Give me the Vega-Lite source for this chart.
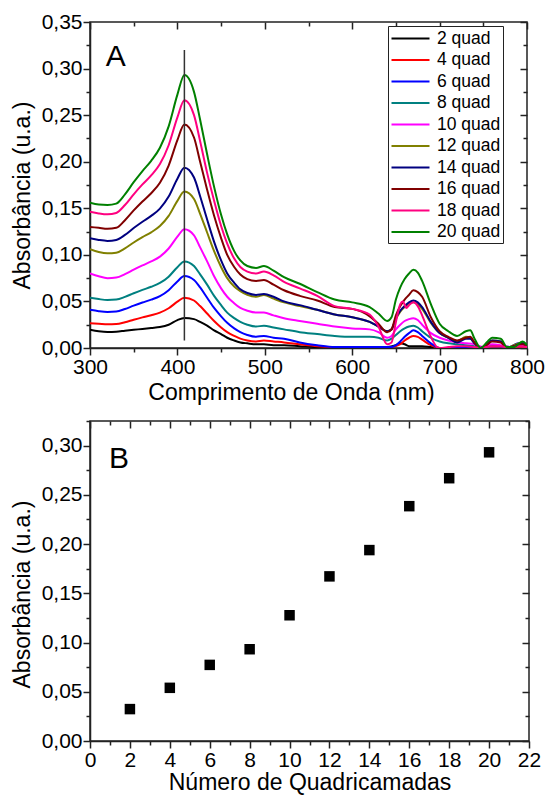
{
"$schema": "https://vega.github.io/schema/vega-lite/v6.json",
"background": "white",
"padding": {"left": 10, "top": 10, "right": 5, "bottom": 3},
"spacing": 4,
"config": {
 "font": "Liberation Sans",
 "view": {"stroke": "#222", "strokeWidth": 1.5},
 "axis": {"domainColor": "#222", "domainWidth": 1.5, "tickColor": "#222", "tickWidth": 1.5, "labelFont": "Liberation Sans", "labelFontSize": 21, "labelColor": "black", "titleFont": "Liberation Sans", "titleFontSize": 23, "titleFontWeight": "normal", "titleColor": "black", "grid": false, "labelPadding": 1, "labelFlush": false, "labelBound": false, "labelOverlap": false, "titlePadding": 4}
},
"vconcat": [
 {
  "width": 437, "height": 326,
  "resolve": {"axis": {"x": "independent", "y": "independent"}},
  "layer": [
   {
    "data": {"values": [
{"s":"2 quad","nm":300,"a":0.0197},{"s":"2 quad","nm":310,"a":0.018},{"s":"2 quad","nm":320,"a":0.0172},{"s":"2 quad","nm":330,"a":0.0175},{"s":"2 quad","nm":340,"a":0.0185},{"s":"2 quad","nm":350,"a":0.0195},{"s":"2 quad","nm":360,"a":0.0205},{"s":"2 quad","nm":370,"a":0.0215},{"s":"2 quad","nm":380,"a":0.0225},{"s":"2 quad","nm":390,"a":0.025},{"s":"2 quad","nm":400,"a":0.030},{"s":"2 quad","nm":408,"a":0.0322},{"s":"2 quad","nm":419,"a":0.031},{"s":"2 quad","nm":426,"a":0.028},{"s":"2 quad","nm":434,"a":0.024},{"s":"2 quad","nm":442,"a":0.019},{"s":"2 quad","nm":450,"a":0.015},{"s":"2 quad","nm":457,"a":0.011},{"s":"2 quad","nm":465,"a":0.008},{"s":"2 quad","nm":472,"a":0.006},{"s":"2 quad","nm":480,"a":0.005},{"s":"2 quad","nm":490,"a":0.004},{"s":"2 quad","nm":499,"a":0.004},{"s":"2 quad","nm":510,"a":0.003},{"s":"2 quad","nm":522,"a":0.003},{"s":"2 quad","nm":540,"a":0.002},{"s":"2 quad","nm":560,"a":0.001},{"s":"2 quad","nm":600,"a":0.001},{"s":"2 quad","nm":640,"a":0.001},{"s":"2 quad","nm":650,"a":0.003},{"s":"2 quad","nm":655,"a":0.005},{"s":"2 quad","nm":660,"a":0.004},{"s":"2 quad","nm":665,"a":0.002},{"s":"2 quad","nm":680,"a":0.002},{"s":"2 quad","nm":690,"a":0.001},{"s":"2 quad","nm":700,"a":0.000},{"s":"2 quad","nm":750,"a":0.000},{"s":"2 quad","nm":800,"a":0.000},
{"s":"4 quad","nm":300,"a":0.0265},{"s":"4 quad","nm":310,"a":0.026},{"s":"4 quad","nm":320,"a":0.0254},{"s":"4 quad","nm":330,"a":0.0257},{"s":"4 quad","nm":340,"a":0.0277},{"s":"4 quad","nm":350,"a":0.0304},{"s":"4 quad","nm":360,"a":0.0329},{"s":"4 quad","nm":370,"a":0.0352},{"s":"4 quad","nm":380,"a":0.038},{"s":"4 quad","nm":390,"a":0.0427},{"s":"4 quad","nm":400,"a":0.0497},{"s":"4 quad","nm":408,"a":0.054},{"s":"4 quad","nm":419,"a":0.051},{"s":"4 quad","nm":426,"a":0.045},{"s":"4 quad","nm":434,"a":0.037},{"s":"4 quad","nm":442,"a":0.029},{"s":"4 quad","nm":450,"a":0.022},{"s":"4 quad","nm":457,"a":0.017},{"s":"4 quad","nm":465,"a":0.013},{"s":"4 quad","nm":472,"a":0.010},{"s":"4 quad","nm":480,"a":0.008},{"s":"4 quad","nm":490,"a":0.007},{"s":"4 quad","nm":499,"a":0.008},{"s":"4 quad","nm":510,"a":0.007},{"s":"4 quad","nm":522,"a":0.006},{"s":"4 quad","nm":540,"a":0.004},{"s":"4 quad","nm":560,"a":0.002},{"s":"4 quad","nm":580,"a":0.001},{"s":"4 quad","nm":600,"a":0.001},{"s":"4 quad","nm":620,"a":0.000},{"s":"4 quad","nm":640,"a":0.001},{"s":"4 quad","nm":645,"a":0.001},{"s":"4 quad","nm":650,"a":0.002},{"s":"4 quad","nm":655,"a":0.004},{"s":"4 quad","nm":660,"a":0.008},{"s":"4 quad","nm":665,"a":0.011},{"s":"4 quad","nm":670,"a":0.013},{"s":"4 quad","nm":675,"a":0.012},{"s":"4 quad","nm":680,"a":0.009},{"s":"4 quad","nm":690,"a":0.003},{"s":"4 quad","nm":700,"a":0.000},{"s":"4 quad","nm":750,"a":0.000},{"s":"4 quad","nm":800,"a":0.001},
{"s":"6 quad","nm":300,"a":0.041},{"s":"6 quad","nm":310,"a":0.0395},{"s":"6 quad","nm":320,"a":0.0387},{"s":"6 quad","nm":330,"a":0.0391},{"s":"6 quad","nm":340,"a":0.0419},{"s":"6 quad","nm":350,"a":0.0455},{"s":"6 quad","nm":360,"a":0.0488},{"s":"6 quad","nm":370,"a":0.0519},{"s":"6 quad","nm":380,"a":0.0557},{"s":"6 quad","nm":390,"a":0.0621},{"s":"6 quad","nm":400,"a":0.0715},{"s":"6 quad","nm":408,"a":0.0773},{"s":"6 quad","nm":419,"a":0.073},{"s":"6 quad","nm":426,"a":0.065},{"s":"6 quad","nm":434,"a":0.054},{"s":"6 quad","nm":442,"a":0.043},{"s":"6 quad","nm":450,"a":0.034},{"s":"6 quad","nm":457,"a":0.027},{"s":"6 quad","nm":465,"a":0.021},{"s":"6 quad","nm":472,"a":0.017},{"s":"6 quad","nm":480,"a":0.014},{"s":"6 quad","nm":490,"a":0.012},{"s":"6 quad","nm":499,"a":0.013},{"s":"6 quad","nm":510,"a":0.011},{"s":"6 quad","nm":522,"a":0.010},{"s":"6 quad","nm":540,"a":0.006},{"s":"6 quad","nm":560,"a":0.003},{"s":"6 quad","nm":580,"a":0.001},{"s":"6 quad","nm":600,"a":0.001},{"s":"6 quad","nm":620,"a":0.001},{"s":"6 quad","nm":640,"a":0.001},{"s":"6 quad","nm":645,"a":0.001},{"s":"6 quad","nm":650,"a":0.003},{"s":"6 quad","nm":655,"a":0.007},{"s":"6 quad","nm":660,"a":0.012},{"s":"6 quad","nm":665,"a":0.016},{"s":"6 quad","nm":670,"a":0.019},{"s":"6 quad","nm":675,"a":0.017},{"s":"6 quad","nm":680,"a":0.013},{"s":"6 quad","nm":690,"a":0.005},{"s":"6 quad","nm":700,"a":0.000},{"s":"6 quad","nm":740,"a":0.000},{"s":"6 quad","nm":760,"a":0.002},{"s":"6 quad","nm":780,"a":0.001},{"s":"6 quad","nm":790,"a":0.005},{"s":"6 quad","nm":800,"a":0.002},
{"s":"8 quad","nm":300,"a":0.054},{"s":"8 quad","nm":310,"a":0.0525},{"s":"8 quad","nm":320,"a":0.0515},{"s":"8 quad","nm":330,"a":0.052},{"s":"8 quad","nm":340,"a":0.0549},{"s":"8 quad","nm":350,"a":0.0588},{"s":"8 quad","nm":360,"a":0.0624},{"s":"8 quad","nm":370,"a":0.0657},{"s":"8 quad","nm":380,"a":0.0698},{"s":"8 quad","nm":390,"a":0.0766},{"s":"8 quad","nm":400,"a":0.0868},{"s":"8 quad","nm":408,"a":0.093},{"s":"8 quad","nm":419,"a":0.088},{"s":"8 quad","nm":426,"a":0.079},{"s":"8 quad","nm":434,"a":0.068},{"s":"8 quad","nm":442,"a":0.056},{"s":"8 quad","nm":450,"a":0.046},{"s":"8 quad","nm":457,"a":0.038},{"s":"8 quad","nm":465,"a":0.032},{"s":"8 quad","nm":472,"a":0.028},{"s":"8 quad","nm":480,"a":0.025},{"s":"8 quad","nm":490,"a":0.023},{"s":"8 quad","nm":499,"a":0.024},{"s":"8 quad","nm":510,"a":0.022},{"s":"8 quad","nm":522,"a":0.020},{"s":"8 quad","nm":540,"a":0.017},{"s":"8 quad","nm":560,"a":0.015},{"s":"8 quad","nm":580,"a":0.013},{"s":"8 quad","nm":600,"a":0.012},{"s":"8 quad","nm":620,"a":0.012},{"s":"8 quad","nm":630,"a":0.011},{"s":"8 quad","nm":640,"a":0.008},{"s":"8 quad","nm":645,"a":0.010},{"s":"8 quad","nm":650,"a":0.014},{"s":"8 quad","nm":655,"a":0.018},{"s":"8 quad","nm":660,"a":0.021},{"s":"8 quad","nm":665,"a":0.023},{"s":"8 quad","nm":670,"a":0.024},{"s":"8 quad","nm":675,"a":0.022},{"s":"8 quad","nm":680,"a":0.018},{"s":"8 quad","nm":690,"a":0.011},{"s":"8 quad","nm":700,"a":0.007},{"s":"8 quad","nm":710,"a":0.005},{"s":"8 quad","nm":720,"a":0.004},{"s":"8 quad","nm":730,"a":0.003},{"s":"8 quad","nm":740,"a":0.002},{"s":"8 quad","nm":750,"a":0.001},{"s":"8 quad","nm":760,"a":0.002},{"s":"8 quad","nm":770,"a":0.002},{"s":"8 quad","nm":780,"a":0.001},{"s":"8 quad","nm":790,"a":0.002},{"s":"8 quad","nm":800,"a":0.002},
{"s":"10 quad","nm":300,"a":0.080},{"s":"10 quad","nm":310,"a":0.077},{"s":"10 quad","nm":320,"a":0.075},{"s":"10 quad","nm":330,"a":0.0756},{"s":"10 quad","nm":340,"a":0.0793},{"s":"10 quad","nm":350,"a":0.0842},{"s":"10 quad","nm":360,"a":0.0887},{"s":"10 quad","nm":370,"a":0.0929},{"s":"10 quad","nm":380,"a":0.0981},{"s":"10 quad","nm":390,"a":0.1068},{"s":"10 quad","nm":400,"a":0.1195},{"s":"10 quad","nm":408,"a":0.1274},{"s":"10 quad","nm":419,"a":0.121},{"s":"10 quad","nm":426,"a":0.108},{"s":"10 quad","nm":434,"a":0.093},{"s":"10 quad","nm":442,"a":0.077},{"s":"10 quad","nm":450,"a":0.064},{"s":"10 quad","nm":457,"a":0.055},{"s":"10 quad","nm":465,"a":0.048},{"s":"10 quad","nm":472,"a":0.043},{"s":"10 quad","nm":480,"a":0.040},{"s":"10 quad","nm":490,"a":0.038},{"s":"10 quad","nm":499,"a":0.038},{"s":"10 quad","nm":510,"a":0.035},{"s":"10 quad","nm":522,"a":0.032},{"s":"10 quad","nm":540,"a":0.029},{"s":"10 quad","nm":560,"a":0.026},{"s":"10 quad","nm":580,"a":0.023},{"s":"10 quad","nm":600,"a":0.021},{"s":"10 quad","nm":620,"a":0.020},{"s":"10 quad","nm":630,"a":0.017},{"s":"10 quad","nm":640,"a":0.011},{"s":"10 quad","nm":645,"a":0.013},{"s":"10 quad","nm":650,"a":0.020},{"s":"10 quad","nm":655,"a":0.025},{"s":"10 quad","nm":660,"a":0.029},{"s":"10 quad","nm":665,"a":0.031},{"s":"10 quad","nm":670,"a":0.032},{"s":"10 quad","nm":675,"a":0.030},{"s":"10 quad","nm":680,"a":0.025},{"s":"10 quad","nm":690,"a":0.016},{"s":"10 quad","nm":700,"a":0.011},{"s":"10 quad","nm":710,"a":0.008},{"s":"10 quad","nm":720,"a":0.006},{"s":"10 quad","nm":730,"a":0.005},{"s":"10 quad","nm":740,"a":0.004},{"s":"10 quad","nm":750,"a":0.001},{"s":"10 quad","nm":760,"a":0.004},{"s":"10 quad","nm":770,"a":0.003},{"s":"10 quad","nm":780,"a":0.001},{"s":"10 quad","nm":790,"a":0.003},{"s":"10 quad","nm":800,"a":0.002},
{"s":"12 quad","nm":300,"a":0.106},{"s":"12 quad","nm":310,"a":0.103},{"s":"12 quad","nm":320,"a":0.1016},{"s":"12 quad","nm":330,"a":0.1023},{"s":"12 quad","nm":340,"a":0.107},{"s":"12 quad","nm":350,"a":0.1133},{"s":"12 quad","nm":360,"a":0.119},{"s":"12 quad","nm":370,"a":0.1242},{"s":"12 quad","nm":380,"a":0.1309},{"s":"12 quad","nm":390,"a":0.1418},{"s":"12 quad","nm":400,"a":0.158},{"s":"12 quad","nm":408,"a":0.168},{"s":"12 quad","nm":419,"a":0.160},{"s":"12 quad","nm":426,"a":0.144},{"s":"12 quad","nm":434,"a":0.124},{"s":"12 quad","nm":442,"a":0.104},{"s":"12 quad","nm":450,"a":0.087},{"s":"12 quad","nm":457,"a":0.075},{"s":"12 quad","nm":465,"a":0.066},{"s":"12 quad","nm":472,"a":0.061},{"s":"12 quad","nm":480,"a":0.057},{"s":"12 quad","nm":490,"a":0.055},{"s":"12 quad","nm":499,"a":0.057},{"s":"12 quad","nm":510,"a":0.053},{"s":"12 quad","nm":522,"a":0.049},{"s":"12 quad","nm":540,"a":0.045},{"s":"12 quad","nm":560,"a":0.041},{"s":"12 quad","nm":580,"a":0.036},{"s":"12 quad","nm":600,"a":0.033},{"s":"12 quad","nm":620,"a":0.028},{"s":"12 quad","nm":630,"a":0.023},{"s":"12 quad","nm":640,"a":0.018},{"s":"12 quad","nm":645,"a":0.020},{"s":"12 quad","nm":650,"a":0.031},{"s":"12 quad","nm":655,"a":0.039},{"s":"12 quad","nm":660,"a":0.044},{"s":"12 quad","nm":665,"a":0.047},{"s":"12 quad","nm":670,"a":0.049},{"s":"12 quad","nm":675,"a":0.047},{"s":"12 quad","nm":680,"a":0.042},{"s":"12 quad","nm":690,"a":0.027},{"s":"12 quad","nm":700,"a":0.016},{"s":"12 quad","nm":710,"a":0.011},{"s":"12 quad","nm":720,"a":0.007},{"s":"12 quad","nm":730,"a":0.012},{"s":"12 quad","nm":735,"a":0.011},{"s":"12 quad","nm":740,"a":0.005},{"s":"12 quad","nm":747,"a":0.000},{"s":"12 quad","nm":755,"a":0.004},{"s":"12 quad","nm":760,"a":0.008},{"s":"12 quad","nm":770,"a":0.007},{"s":"12 quad","nm":777,"a":0.000},{"s":"12 quad","nm":785,"a":0.003},{"s":"12 quad","nm":795,"a":0.006},{"s":"12 quad","nm":800,"a":0.002},
{"s":"14 quad","nm":300,"a":0.1178},{"s":"14 quad","nm":310,"a":0.116},{"s":"14 quad","nm":320,"a":0.115},{"s":"14 quad","nm":330,"a":0.116},{"s":"14 quad","nm":340,"a":0.1214},{"s":"14 quad","nm":350,"a":0.1288},{"s":"14 quad","nm":360,"a":0.1356},{"s":"14 quad","nm":370,"a":0.1418},{"s":"14 quad","nm":380,"a":0.1497},{"s":"14 quad","nm":390,"a":0.1626},{"s":"14 quad","nm":400,"a":0.1818},{"s":"14 quad","nm":408,"a":0.1936},{"s":"14 quad","nm":419,"a":0.183},{"s":"14 quad","nm":426,"a":0.163},{"s":"14 quad","nm":434,"a":0.138},{"s":"14 quad","nm":442,"a":0.114},{"s":"14 quad","nm":450,"a":0.094},{"s":"14 quad","nm":457,"a":0.080},{"s":"14 quad","nm":465,"a":0.070},{"s":"14 quad","nm":472,"a":0.063},{"s":"14 quad","nm":480,"a":0.059},{"s":"14 quad","nm":490,"a":0.057},{"s":"14 quad","nm":499,"a":0.058},{"s":"14 quad","nm":510,"a":0.055},{"s":"14 quad","nm":522,"a":0.050},{"s":"14 quad","nm":540,"a":0.046},{"s":"14 quad","nm":560,"a":0.041},{"s":"14 quad","nm":580,"a":0.036},{"s":"14 quad","nm":600,"a":0.033},{"s":"14 quad","nm":620,"a":0.028},{"s":"14 quad","nm":630,"a":0.023},{"s":"14 quad","nm":640,"a":0.018},{"s":"14 quad","nm":645,"a":0.020},{"s":"14 quad","nm":650,"a":0.032},{"s":"14 quad","nm":655,"a":0.040},{"s":"14 quad","nm":660,"a":0.045},{"s":"14 quad","nm":665,"a":0.049},{"s":"14 quad","nm":670,"a":0.051},{"s":"14 quad","nm":675,"a":0.049},{"s":"14 quad","nm":680,"a":0.044},{"s":"14 quad","nm":690,"a":0.028},{"s":"14 quad","nm":700,"a":0.016},{"s":"14 quad","nm":710,"a":0.011},{"s":"14 quad","nm":720,"a":0.006},{"s":"14 quad","nm":730,"a":0.010},{"s":"14 quad","nm":735,"a":0.010},{"s":"14 quad","nm":740,"a":0.005},{"s":"14 quad","nm":747,"a":0.000},{"s":"14 quad","nm":755,"a":0.005},{"s":"14 quad","nm":760,"a":0.008},{"s":"14 quad","nm":770,"a":0.007},{"s":"14 quad","nm":777,"a":0.000},{"s":"14 quad","nm":785,"a":0.002},{"s":"14 quad","nm":795,"a":0.005},{"s":"14 quad","nm":800,"a":0.002},
{"s":"16 quad","nm":300,"a":0.130},{"s":"16 quad","nm":310,"a":0.129},{"s":"16 quad","nm":320,"a":0.128},{"s":"16 quad","nm":330,"a":0.129},{"s":"16 quad","nm":340,"a":0.1372},{"s":"16 quad","nm":350,"a":0.1477},{"s":"16 quad","nm":360,"a":0.1573},{"s":"16 quad","nm":370,"a":0.1662},{"s":"16 quad","nm":380,"a":0.1774},{"s":"16 quad","nm":390,"a":0.1959},{"s":"16 quad","nm":400,"a":0.2232},{"s":"16 quad","nm":408,"a":0.240},{"s":"16 quad","nm":419,"a":0.226},{"s":"16 quad","nm":426,"a":0.200},{"s":"16 quad","nm":434,"a":0.170},{"s":"16 quad","nm":442,"a":0.142},{"s":"16 quad","nm":450,"a":0.118},{"s":"16 quad","nm":457,"a":0.100},{"s":"16 quad","nm":465,"a":0.087},{"s":"16 quad","nm":472,"a":0.079},{"s":"16 quad","nm":480,"a":0.074},{"s":"16 quad","nm":490,"a":0.072},{"s":"16 quad","nm":499,"a":0.073},{"s":"16 quad","nm":510,"a":0.068},{"s":"16 quad","nm":522,"a":0.062},{"s":"16 quad","nm":540,"a":0.056},{"s":"16 quad","nm":560,"a":0.051},{"s":"16 quad","nm":580,"a":0.044},{"s":"16 quad","nm":600,"a":0.042},{"s":"16 quad","nm":620,"a":0.034},{"s":"16 quad","nm":630,"a":0.026},{"s":"16 quad","nm":640,"a":0.017},{"s":"16 quad","nm":645,"a":0.020},{"s":"16 quad","nm":650,"a":0.035},{"s":"16 quad","nm":655,"a":0.045},{"s":"16 quad","nm":660,"a":0.052},{"s":"16 quad","nm":665,"a":0.057},{"s":"16 quad","nm":670,"a":0.062},{"s":"16 quad","nm":675,"a":0.060},{"s":"16 quad","nm":680,"a":0.055},{"s":"16 quad","nm":690,"a":0.033},{"s":"16 quad","nm":700,"a":0.018},{"s":"16 quad","nm":710,"a":0.012},{"s":"16 quad","nm":720,"a":0.008},{"s":"16 quad","nm":730,"a":0.011},{"s":"16 quad","nm":735,"a":0.012},{"s":"16 quad","nm":740,"a":0.006},{"s":"16 quad","nm":747,"a":0.000},{"s":"16 quad","nm":755,"a":0.004},{"s":"16 quad","nm":760,"a":0.007},{"s":"16 quad","nm":770,"a":0.006},{"s":"16 quad","nm":777,"a":0.000},{"s":"16 quad","nm":785,"a":0.002},{"s":"16 quad","nm":795,"a":0.004},{"s":"16 quad","nm":800,"a":0.002},
{"s":"18 quad","nm":300,"a":0.1464},{"s":"18 quad","nm":310,"a":0.1445},{"s":"18 quad","nm":320,"a":0.1435},{"s":"18 quad","nm":330,"a":0.145},{"s":"18 quad","nm":340,"a":0.1535},{"s":"18 quad","nm":350,"a":0.165},{"s":"18 quad","nm":360,"a":0.1756},{"s":"18 quad","nm":370,"a":0.1853},{"s":"18 quad","nm":380,"a":0.1975},{"s":"18 quad","nm":390,"a":0.2177},{"s":"18 quad","nm":400,"a":0.2476},{"s":"18 quad","nm":408,"a":0.266},{"s":"18 quad","nm":419,"a":0.250},{"s":"18 quad","nm":426,"a":0.222},{"s":"18 quad","nm":434,"a":0.188},{"s":"18 quad","nm":442,"a":0.158},{"s":"18 quad","nm":450,"a":0.131},{"s":"18 quad","nm":457,"a":0.112},{"s":"18 quad","nm":465,"a":0.096},{"s":"18 quad","nm":472,"a":0.087},{"s":"18 quad","nm":480,"a":0.082},{"s":"18 quad","nm":490,"a":0.080},{"s":"18 quad","nm":499,"a":0.082},{"s":"18 quad","nm":510,"a":0.078},{"s":"18 quad","nm":522,"a":0.071},{"s":"18 quad","nm":540,"a":0.064},{"s":"18 quad","nm":560,"a":0.056},{"s":"18 quad","nm":580,"a":0.045},{"s":"18 quad","nm":600,"a":0.042},{"s":"18 quad","nm":620,"a":0.036},{"s":"18 quad","nm":630,"a":0.023},{"s":"18 quad","nm":640,"a":0.004},{"s":"18 quad","nm":645,"a":0.006},{"s":"18 quad","nm":650,"a":0.028},{"s":"18 quad","nm":655,"a":0.047},{"s":"18 quad","nm":658,"a":0.050},{"s":"18 quad","nm":662,"a":0.043},{"s":"18 quad","nm":665,"a":0.046},{"s":"18 quad","nm":670,"a":0.049},{"s":"18 quad","nm":675,"a":0.045},{"s":"18 quad","nm":680,"a":0.035},{"s":"18 quad","nm":690,"a":0.012},{"s":"18 quad","nm":697,"a":0.001},{"s":"18 quad","nm":700,"a":0.000},{"s":"18 quad","nm":710,"a":0.001},{"s":"18 quad","nm":720,"a":0.002},{"s":"18 quad","nm":730,"a":0.002},{"s":"18 quad","nm":740,"a":0.001},{"s":"18 quad","nm":747,"a":0.000},{"s":"18 quad","nm":760,"a":0.002},{"s":"18 quad","nm":770,"a":0.002},{"s":"18 quad","nm":780,"a":0.000},{"s":"18 quad","nm":790,"a":0.002},{"s":"18 quad","nm":800,"a":0.001},
{"s":"20 quad","nm":300,"a":0.156},{"s":"20 quad","nm":310,"a":0.154},{"s":"20 quad","nm":320,"a":0.1535},{"s":"20 quad","nm":330,"a":0.155},{"s":"20 quad","nm":340,"a":0.165},{"s":"20 quad","nm":350,"a":0.178},{"s":"20 quad","nm":360,"a":0.190},{"s":"20 quad","nm":370,"a":0.201},{"s":"20 quad","nm":380,"a":0.215},{"s":"20 quad","nm":390,"a":0.238},{"s":"20 quad","nm":400,"a":0.272},{"s":"20 quad","nm":408,"a":0.293},{"s":"20 quad","nm":419,"a":0.275},{"s":"20 quad","nm":426,"a":0.245},{"s":"20 quad","nm":434,"a":0.208},{"s":"20 quad","nm":442,"a":0.173},{"s":"20 quad","nm":450,"a":0.143},{"s":"20 quad","nm":457,"a":0.122},{"s":"20 quad","nm":465,"a":0.104},{"s":"20 quad","nm":472,"a":0.094},{"s":"20 quad","nm":480,"a":0.088},{"s":"20 quad","nm":490,"a":0.086},{"s":"20 quad","nm":499,"a":0.088},{"s":"20 quad","nm":510,"a":0.083},{"s":"20 quad","nm":522,"a":0.076},{"s":"20 quad","nm":540,"a":0.069},{"s":"20 quad","nm":560,"a":0.060},{"s":"20 quad","nm":580,"a":0.052},{"s":"20 quad","nm":600,"a":0.049},{"s":"20 quad","nm":620,"a":0.044},{"s":"20 quad","nm":630,"a":0.037},{"s":"20 quad","nm":640,"a":0.029},{"s":"20 quad","nm":645,"a":0.033},{"s":"20 quad","nm":650,"a":0.052},{"s":"20 quad","nm":655,"a":0.065},{"s":"20 quad","nm":660,"a":0.074},{"s":"20 quad","nm":665,"a":0.080},{"s":"20 quad","nm":670,"a":0.084},{"s":"20 quad","nm":675,"a":0.081},{"s":"20 quad","nm":680,"a":0.072},{"s":"20 quad","nm":690,"a":0.047},{"s":"20 quad","nm":700,"a":0.026},{"s":"20 quad","nm":710,"a":0.018},{"s":"20 quad","nm":720,"a":0.013},{"s":"20 quad","nm":730,"a":0.018},{"s":"20 quad","nm":735,"a":0.019},{"s":"20 quad","nm":740,"a":0.010},{"s":"20 quad","nm":747,"a":0.000},{"s":"20 quad","nm":755,"a":0.007},{"s":"20 quad","nm":760,"a":0.011},{"s":"20 quad","nm":770,"a":0.010},{"s":"20 quad","nm":777,"a":0.001},{"s":"20 quad","nm":785,"a":0.001},{"s":"20 quad","nm":795,"a":0.007},{"s":"20 quad","nm":800,"a":0.003}
    ]},
    "mark": {"type": "line", "strokeWidth": 2, "interpolate": "monotone", "clip": true},
    "encoding": {
     "x": {"field": "nm", "type": "quantitative", "scale": {"domain": [300, 800], "nice": false},
      "axis": {"title": "Comprimento de Onda (nm)", "titleX": 201, "values": [300,350,400,450,500,550,600,650,700,750,800], "labelExpr": "datum.value % 100 == 0 ? datum.label : ''", "tickSize": {"condition": {"test": "datum.value % 100 == 0", "value": 7}, "value": 4}}},
     "y": {"field": "a", "type": "quantitative", "scale": {"domain": [0, 0.35], "nice": false},
      "axis": {"title": "Absorbância (u.a.)", "titleY": 173, "titlePadding": 7, "values": [0,0.025,0.05,0.075,0.1,0.125,0.15,0.175,0.2,0.225,0.25,0.275,0.3,0.325,0.35], "labelExpr": "abs(datum.value*20-round(datum.value*20))<0.001 ? replace(format(datum.value,'.2f'),'.',',') : ''", "tickSize": {"condition": {"test": "abs(datum.value*20-round(datum.value*20))<0.001", "value": 7}, "value": 4}}},
     "color": {"field": "s", "type": "nominal",
      "scale": {"domain": ["2 quad","4 quad","6 quad","8 quad","10 quad","12 quad","14 quad","16 quad","18 quad","20 quad"], "range": ["#000000","#FF0000","#0000FF","#008080","#FF00FF","#808000","#000080","#800000","#FF0080","#008000"]},
      "legend": {"title": null, "orient": "none", "legendX": 298, "legendY": 4, "strokeColor": "#222", "fillColor": "white", "padding": 2, "labelFontSize": 17.5, "labelFont": "Liberation Sans", "labelColor": "black", "symbolType": "M-2,0L2,0", "symbolSize": 361, "symbolStrokeWidth": 2, "symbolOffset": 10, "labelOffset": 16, "rowPadding": 2.5}}
    }
   },
   {
    "data": {"values": [{"nm": 408, "lo": 0.008, "hi": 0.32}]},
    "mark": {"type": "rule", "color": "#333", "strokeWidth": 1.5},
    "encoding": {
     "x": {"field": "nm", "type": "quantitative", "axis": null},
     "y": {"field": "lo", "type": "quantitative", "axis": null},
     "y2": {"field": "hi"}
    }
   },
   {
    "data": {"values": [{"nm": 318, "a": 0.3026, "t": "A"}]},
    "mark": {"type": "text", "align": "left", "baseline": "alphabetic", "fontSize": 30, "font": "Liberation Sans", "color": "black"},
    "encoding": {
     "x": {"field": "nm", "type": "quantitative", "axis": {"orient": "top", "labels": false, "title": null, "domain": false, "values": [300,350,400,450,500,550,600,650,700,750,800], "tickSize": {"condition": {"test": "datum.value % 100 == 0", "value": -7}, "value": -4}}},
     "y": {"field": "a", "type": "quantitative", "axis": {"orient": "right", "labels": false, "title": null, "domain": false, "values": [0,0.025,0.05,0.075,0.1,0.125,0.15,0.175,0.2,0.225,0.25,0.275,0.3,0.325,0.35], "tickSize": {"condition": {"test": "abs(datum.value*20-round(datum.value*20))<0.001", "value": -7}, "value": -4}}},
     "text": {"field": "t"}
    }
   }
  ]
 },
 {
  "width": 439, "height": 320,
  "resolve": {"axis": {"x": "independent", "y": "independent"}},
  "layer": [
   {
    "data": {"values": [
{"n":2,"a":0.0324},{"n":4,"a":0.054},{"n":6,"a":0.0773},{"n":8,"a":0.0932},{"n":10,"a":0.1277},{"n":12,"a":0.1672},{"n":14,"a":0.1939},{"n":16,"a":0.2385},{"n":18,"a":0.2669},{"n":20,"a":0.2932}
    ]},
    "mark": {"type": "square", "size": 110, "color": "black", "opacity": 1},
    "encoding": {
     "x": {"field": "n", "type": "quantitative", "scale": {"domain": [0, 22], "nice": false},
      "axis": {"title": "Número de Quadricamadas", "titlePadding": 1, "values": [0,1,2,3,4,5,6,7,8,9,10,11,12,13,14,15,16,17,18,19,20,21,22], "labelExpr": "datum.value % 2 == 0 ? datum.label : ''", "tickSize": {"condition": {"test": "datum.value % 2 == 0", "value": 7}, "value": 4}}},
     "y": {"field": "a", "type": "quantitative", "scale": {"domain": [0, 0.325], "nice": false},
      "axis": {"title": "Absorbância (u.a.)", "titleY": 173, "titlePadding": 7, "values": [0,0.025,0.05,0.075,0.1,0.125,0.15,0.175,0.2,0.225,0.25,0.275,0.3,0.325], "labelExpr": "abs(datum.value*20-round(datum.value*20))<0.001 ? replace(format(datum.value,'.2f'),'.',',') : ''", "tickSize": {"condition": {"test": "abs(datum.value*20-round(datum.value*20))<0.001", "value": 7}, "value": 4}}}
    }
   },
   {
    "data": {"values": [{"n": 0.95, "a": 0.2777, "t": "B"}]},
    "mark": {"type": "text", "align": "left", "baseline": "alphabetic", "fontSize": 30, "font": "Liberation Sans", "color": "black"},
    "encoding": {
     "x": {"field": "n", "type": "quantitative", "axis": {"orient": "top", "labels": false, "title": null, "domain": false, "values": [0,1,2,3,4,5,6,7,8,9,10,11,12,13,14,15,16,17,18,19,20,21,22], "tickSize": {"condition": {"test": "datum.value % 2 == 0", "value": -7}, "value": -4}}},
     "y": {"field": "a", "type": "quantitative", "axis": {"orient": "right", "labels": false, "title": null, "domain": false, "values": [0,0.025,0.05,0.075,0.1,0.125,0.15,0.175,0.2,0.225,0.25,0.275,0.3,0.325], "tickSize": {"condition": {"test": "abs(datum.value*20-round(datum.value*20))<0.001", "value": -7}, "value": -4}}},
     "text": {"field": "t"}
    }
   }
  ]
 }
]
}
